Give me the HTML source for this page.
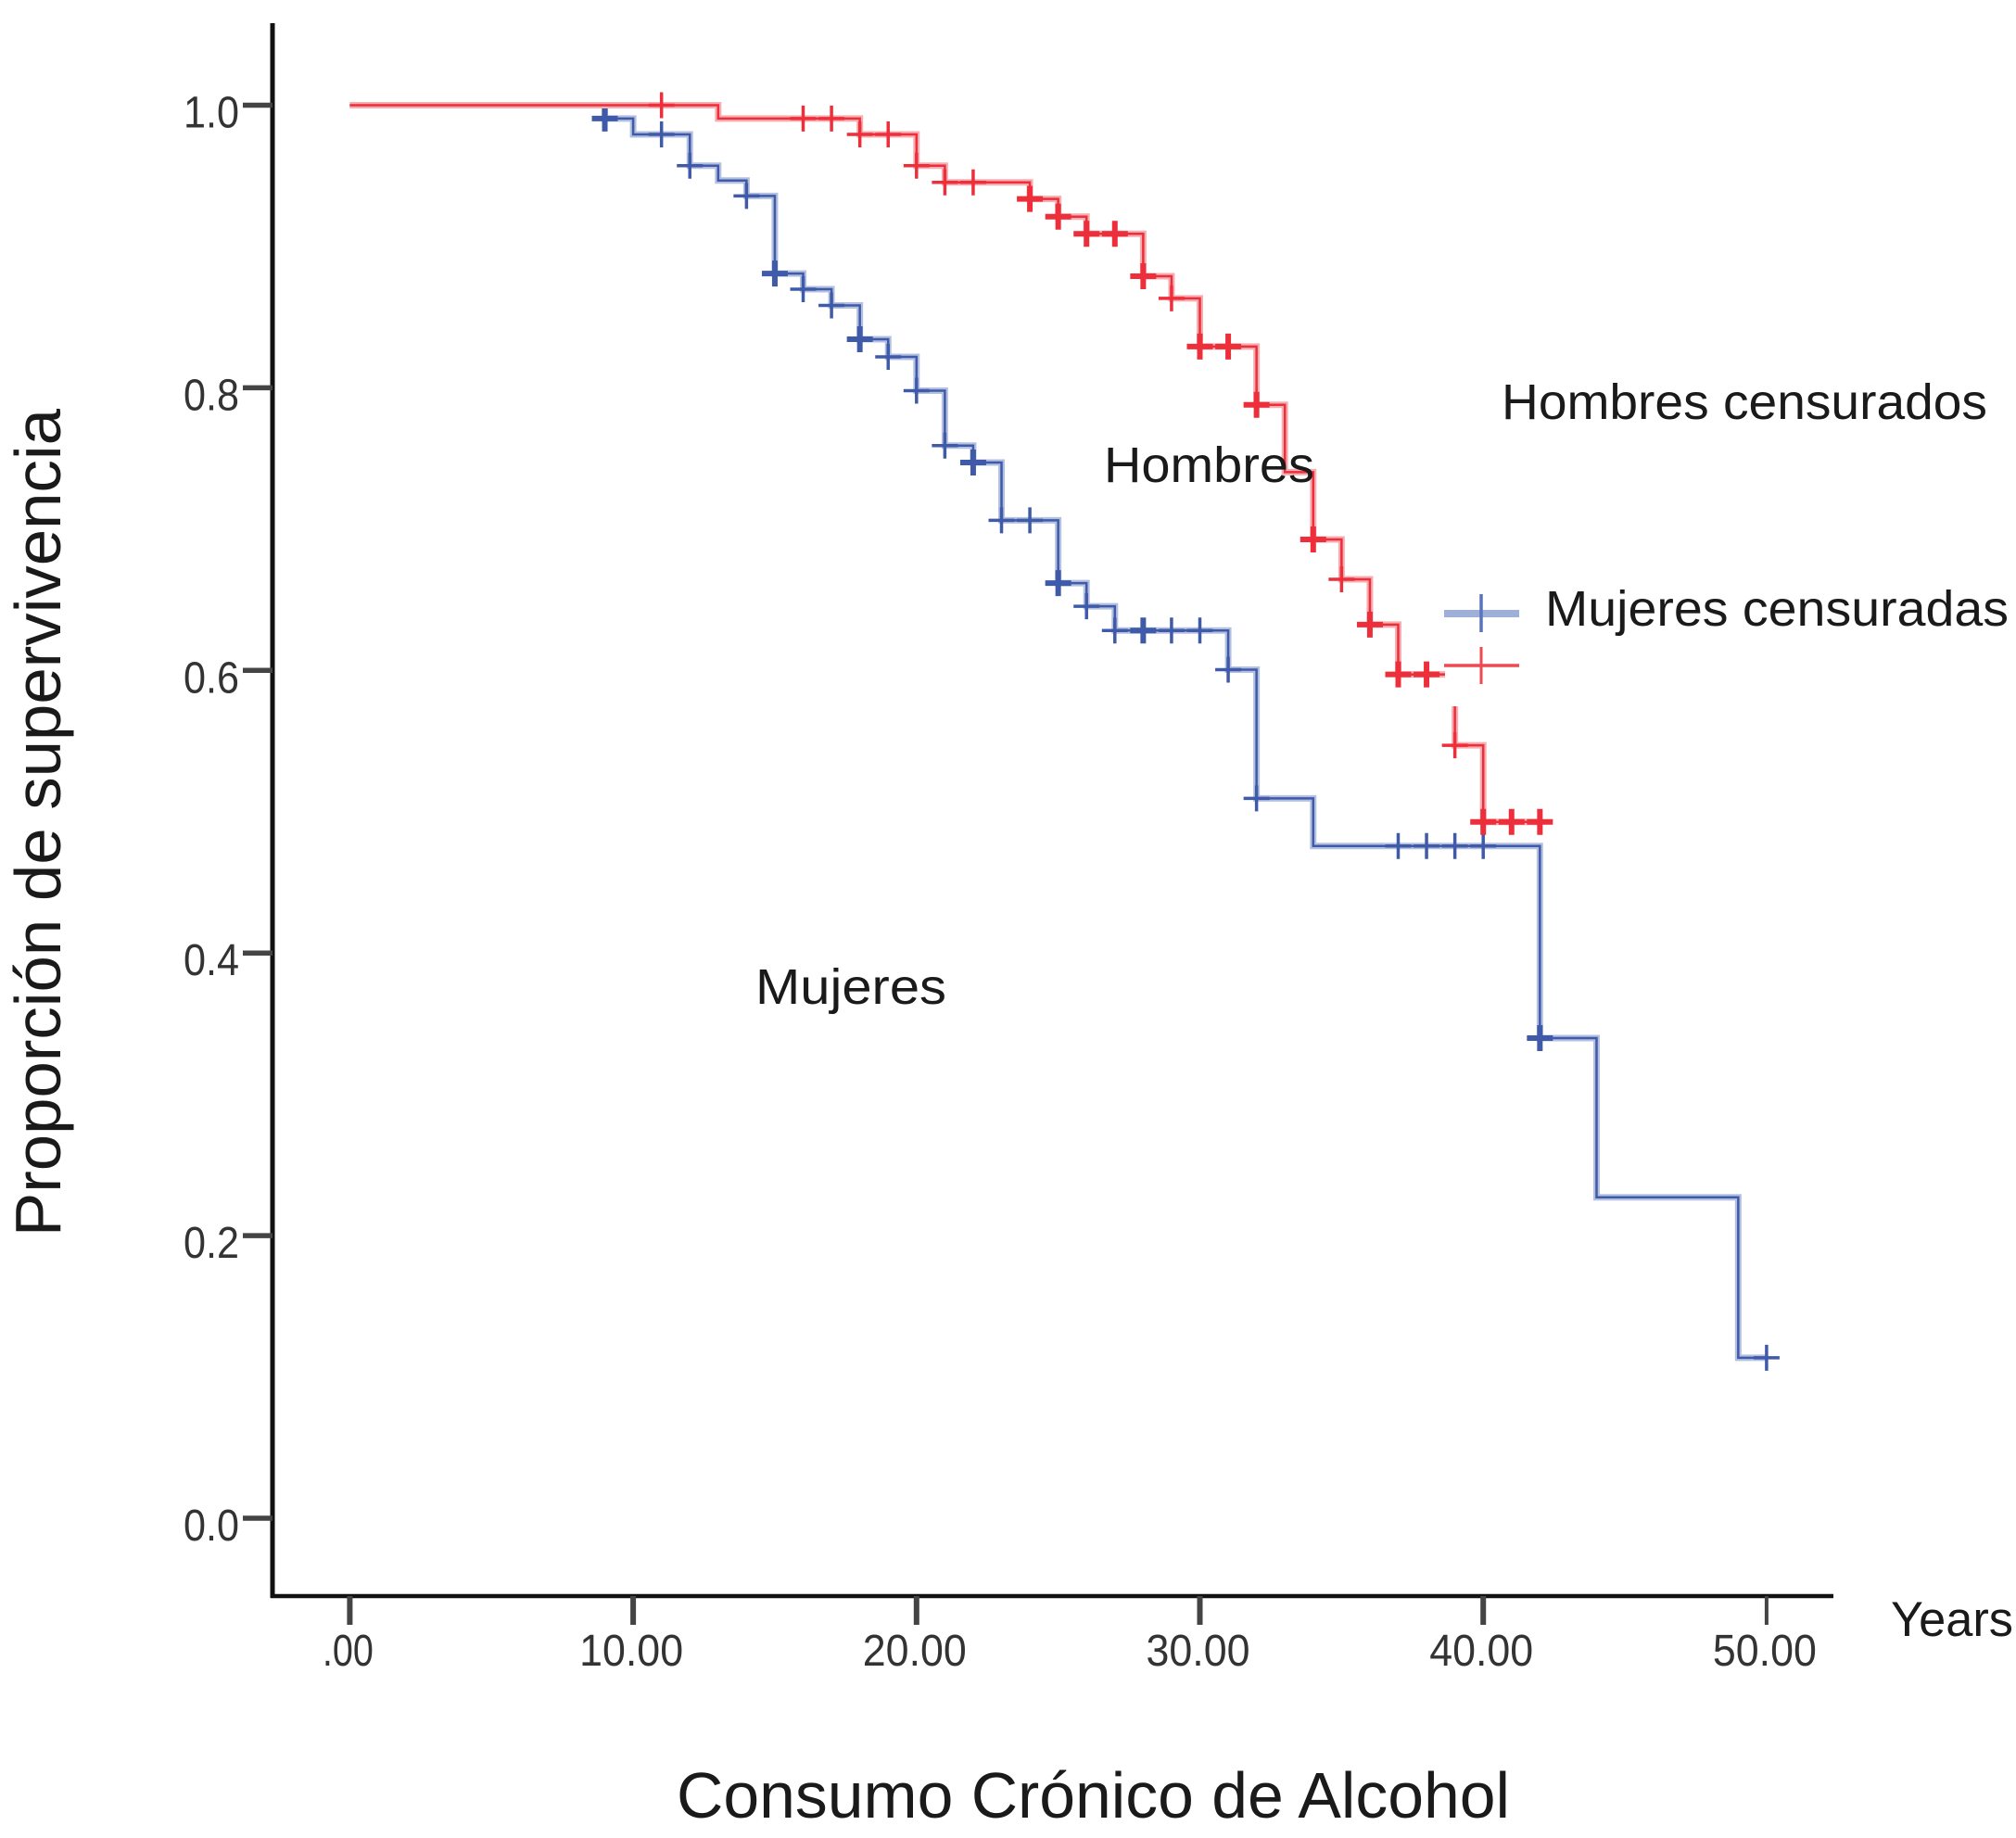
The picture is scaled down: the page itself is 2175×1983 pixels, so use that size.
<!DOCTYPE html>
<html lang="es">
<head>
<meta charset="utf-8">
<title>Proporción de supervivencia</title>
<style>
html,body{margin:0;padding:0;background:#fff;}
svg{display:block;}
.big{font-family:"Liberation Sans",sans-serif;fill:#1a1a1a;}
.tick{font-family:"Liberation Sans",sans-serif;font-size:48px;fill:#333;}
</style>
</head>
<body>
<svg id="chart" xmlns="http://www.w3.org/2000/svg" width="2175" height="1983" viewBox="0 0 2175 1983">
  <rect x="0" y="0" width="2175" height="1983" fill="#fff"/>
  <g id="axes"></g>
  <g id="series"></g>
  <rect x="1559" y="636" width="92" height="126" fill="#fff"/>
  <g>
    <line x1="1558" x2="1639" y1="662" y2="662" stroke="#9fb0d8" stroke-width="8"/>
    <line x1="1598" x2="1598" y1="641" y2="682" stroke="#5a74bb" stroke-width="3.5"/>
  </g>
  <g>
    <line x1="1558" x2="1639" y1="718" y2="718" stroke="#ed4a52" stroke-width="3.5"/>
    <line x1="1598" x2="1598" y1="698" y2="738" stroke="#ed4a52" stroke-width="3"/>
  </g>
  <text class="big" transform="translate(65,1334) rotate(-90)" font-size="70" textLength="893" lengthAdjust="spacingAndGlyphs">Proporción de supervivencia</text>
  <text class="big" x="730" y="1961" font-size="70" textLength="899" lengthAdjust="spacingAndGlyphs">Consumo Crónico de Alcohol</text>
  <text class="big" x="2040" y="1765" font-size="53" textLength="132" lengthAdjust="spacingAndGlyphs">Years</text>
  <text class="big" x="1620" y="452" font-size="54" textLength="524" lengthAdjust="spacingAndGlyphs">Hombres censurados</text>
  <text class="big" x="1667" y="675" font-size="54" textLength="500" lengthAdjust="spacingAndGlyphs">Mujeres censuradas</text>
  <text class="big" x="1191" y="520" font-size="54" textLength="227" lengthAdjust="spacingAndGlyphs">Hombres</text>
  <text class="big" x="815" y="1083" font-size="54" textLength="206" lengthAdjust="spacingAndGlyphs">Mujeres</text>
</svg>
<script>
const xTickValues = [0, 10, 20, 30, 40, 50];
const xTickLabels = [".00", "10.00", "20.00", "30.00", "40.00", "50.00"];
const yTickValues = [0, 0.2, 0.4, 0.6, 0.8, 1.0];
const yTickLabels = ["0.0", "0.2", "0.4", "0.6", "0.8", "1.0"];

const maleTimes = [0, 13, 18, 20, 21, 24, 25, 26, 28, 29, 30, 32, 33, 34, 35, 36, 37, 39, 40, 42];
const maleSurvival = [1.0, 0.9906, 0.9793, 0.9572, 0.9454, 0.9337, 0.9211, 0.909, 0.879, 0.8633, 0.8292, 0.788, 0.7403, 0.6927, 0.6645, 0.6324, 0.5972, 0.547, 0.4928, 0.4928];
const maleCensored = [11, 16, 17, 18, 19, 20, 21, 22, 24, 25, 26, 27, 28, 29, 30, 31, 32, 34, 35, 36, 37, 38, 39, 40, 41, 42];
const maleBoldCensored = [24, 25, 26, 27, 28, 30, 31, 32, 34, 36, 37, 38, 40, 41, 42];

const femaleTimes = [0, 9, 10, 12, 13, 14, 15, 16, 17, 18, 19, 20, 21, 22, 23, 25, 26, 27, 31, 32, 34, 42, 44, 49, 50];
const femaleSurvival = [1.0, 0.9906, 0.9793, 0.9572, 0.9467, 0.9358, 0.8809, 0.8698, 0.8583, 0.8344, 0.8219, 0.798, 0.7591, 0.7471, 0.7062, 0.6618, 0.6454, 0.6282, 0.6005, 0.5094, 0.4757, 0.3398, 0.2271, 0.1136, 0.1136];
const femaleCensored = [9, 11, 12, 14, 15, 16, 17, 18, 19, 20, 21, 22, 23, 24, 25, 26, 27, 28, 29, 30, 31, 32, 37, 38, 39, 40, 42, 50];
const femaleBoldCensored = [9, 15, 18, 22, 25, 28, 42];

const SVG_NS = "http://www.w3.org/2000/svg";
const axisLeft = 294, axisBottom = 1722, axisTop = 25, axisRight = 1978;
function xScale(t) { return 377.4 + 30.57 * t; }
function yScale(v) { return 1638 - 1524.5 * v; }

function makeEl(tag, attrs) {
  const el = document.createElementNS(SVG_NS, tag);
  for (const k in attrs) el.setAttribute(k, attrs[k]);
  return el;
}
function levelAt(times, values, t) {
  let level = values[0];
  for (let i = 0; i < times.length; i++) {
    if (times[i] <= t) level = values[i];
  }
  return level;
}
function stepPath(times, values) {
  let d = "M" + xScale(times[0]) + " " + yScale(values[0]);
  for (let i = 1; i < times.length; i++) {
    d += "H" + xScale(times[i]) + "V" + yScale(values[i]);
  }
  return d;
}

const axes = document.getElementById("axes");
const yAxisLine = makeEl("line", {x1: axisLeft, x2: axisLeft, y1: axisTop, y2: axisBottom + 2, stroke: "#111", "stroke-width": 5});


axes.appendChild(yAxisLine);
const xAxisLine = makeEl("line", {x1: axisLeft - 2, x2: axisRight, y1: axisBottom, y2: axisBottom, stroke: "#111", "stroke-width": 4.5});


axes.appendChild(xAxisLine);

xTickValues.forEach(function (v, i) {
  const tick = makeEl("line", {x1: xScale(v), x2: xScale(v), y1: axisBottom, y2: 1753, stroke: "#444", "stroke-width": i === 5 ? 4 : 6});
  
  
  axes.appendChild(tick);
  const label = makeEl("text", {x: xScale(v) - 2, y: 1797, "text-anchor": "middle", "class": "tick", textLength: i === 0 ? 55 : 112, lengthAdjust: "spacingAndGlyphs"});
  
  
  label.textContent = xTickLabels[i];
  axes.appendChild(label);
});

yTickValues.forEach(function (v, i) {
  const tick = makeEl("line", {x1: 262, x2: axisLeft, y1: yScale(v), y2: yScale(v), stroke: "#444", "stroke-width": 5.5});
  
  
  axes.appendChild(tick);
  const label = makeEl("text", {x: 258, y: yScale(v) + 24, "text-anchor": "end", "class": "tick", textLength: 60, lengthAdjust: "spacingAndGlyphs"});
  
  
  label.textContent = yTickLabels[i];
  axes.appendChild(label);
});

const seriesLayer = document.getElementById("series");

function drawSeries(times, values, censored, bold, core, halo, nameStem) {
  const group = makeEl("g", {});
  
  
  const d = stepPath(times, values);
  const haloPath = makeEl("path", {d: d, fill: "none", stroke: halo, "stroke-width": 7, "stroke-linejoin": "miter"});
  
  
  group.appendChild(haloPath);
  const corePath = makeEl("path", {d: d, fill: "none", stroke: core, "stroke-width": 2.5, "stroke-linejoin": "miter"});
  
  
  group.appendChild(corePath);
  censored.forEach(function (t) {
    const cx = xScale(t);
    const cy = yScale(levelAt(times, values, t));
    const mark = makeEl("path", {d: "M" + (cx - 14) + " " + cy + "H" + (cx + 14) + "M" + cx + " " + (cy - 14) + "V" + (cy + 14), fill: "none", stroke: core, "stroke-width": bold.indexOf(t) >= 0 ? 6 : 3.5});
    
    
    group.appendChild(mark);
  });
  seriesLayer.appendChild(group);
}

drawSeries(femaleTimes, femaleSurvival, femaleCensored, femaleBoldCensored, "#3f5aa9", "#b4c0e0", "mujeres");
drawSeries(maleTimes, maleSurvival, maleCensored, maleBoldCensored, "#ec2f3a", "#f6aeb2", "hombres");
</script>
</body>
</html>
